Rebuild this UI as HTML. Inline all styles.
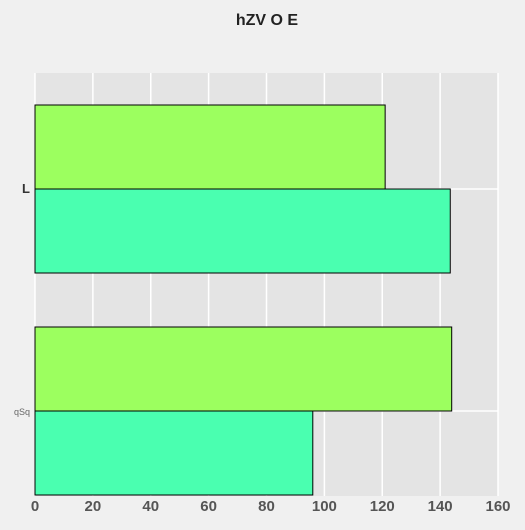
<!DOCTYPE html>
<html><head><meta charset="utf-8"><style>
body{margin:0;background:#f0f0f0;width:525px;height:525px;overflow:hidden;font-family:"Liberation Sans",sans-serif}
</style></head><body>
<svg width="525" height="525">
<text x="267" y="25" text-anchor="middle" font-size="16" font-weight="bold" fill="#222">hZV O E</text>
<rect x="35" y="73" width="463" height="423" fill="#e4e4e4"/>
<g id="grid"></g><g id="bars"></g><g id="xt"></g><g id="yt"></g>
</svg>
<script>
const categories=["L","qSq"];
const seriesA=[121,144];
const seriesB=[143.5,96];
const xTicks=[0,20,40,60,80,100,120,140,160];
const ns="http://www.w3.org/2000/svg";
const X0=35,X1=498,Y0=73,Y1=496;
const xs=v=>X0+(v-0)/(160-0)*(X1-X0);
const bh=84,step=222;
const yc=i=>Y1-1-bh-(categories.length-1-i)*step;
function mk(t,a,p){const e=document.createElementNS(ns,t);for(const k in a)e.setAttribute(k,a[k]);document.getElementById(p).appendChild(e);return e;}
xTicks.forEach(v=>{
 const l=mk('line',{x1:xs(v),x2:xs(v),y1:Y0,y2:Y1,stroke:'#fff','stroke-width':1.5},'grid');
 
 
 const t=mk('text',{x:xs(v),y:511,'text-anchor':'middle','font-size':15,'font-weight':'bold',fill:'#555'},'xt');
 t.textContent=v;
 
 
});
categories.forEach((c,i)=>{
 const cy=yc(i);
 const g=mk('line',{x1:X0,x2:X1,y1:cy,y2:cy,stroke:'#fff','stroke-width':1.5},'grid');
 
 
 const a=mk('rect',{x:X0,y:cy-bh,width:xs(seriesA[i])-X0,height:bh,fill:'#9cff5f',stroke:'#000','stroke-width':1},'bars');
 
 
 const b=mk('rect',{x:X0,y:cy,width:xs(seriesB[i])-X0,height:bh,fill:'#4affb0',stroke:'#000','stroke-width':1},'bars');
 
 
 const t=mk('text',{x:30,y:cy+4,'text-anchor':'end','font-size':i==0?13:9,'font-weight':i==0?'bold':'normal',fill:i==0?'#333':'#666'},'yt');
 t.textContent=c;
 
 
});
</script>
</body></html>
